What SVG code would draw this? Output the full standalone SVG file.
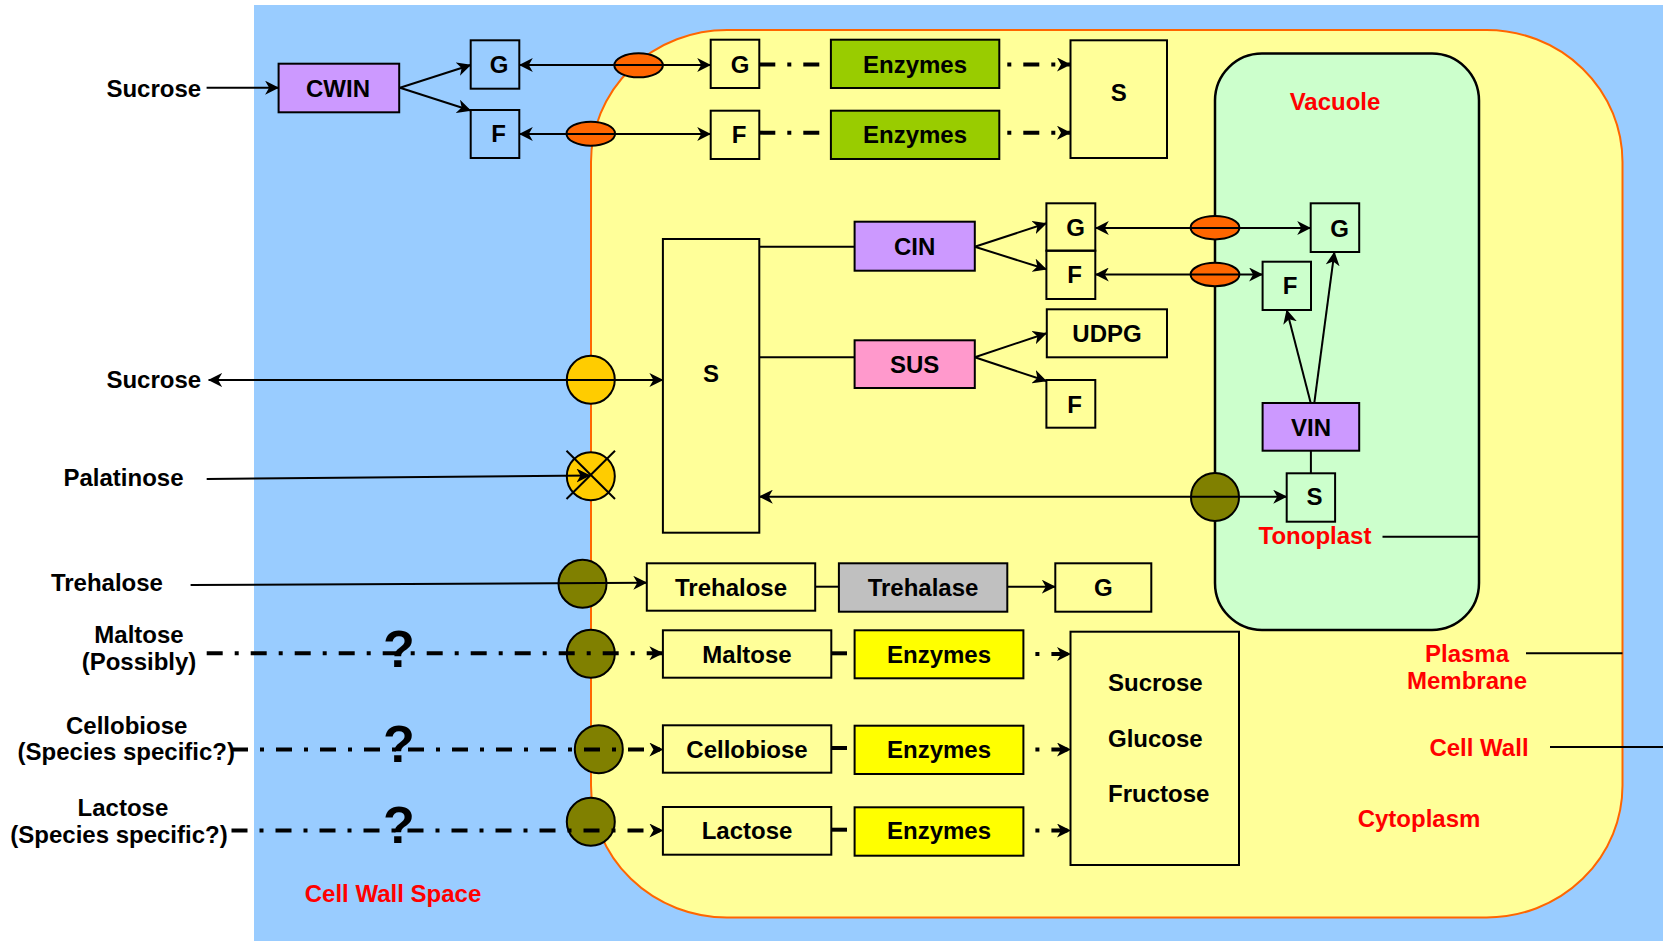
<svg xmlns="http://www.w3.org/2000/svg" width="1663" height="941" viewBox="0 0 1663 941">
<defs>
<style>
.t{font-family:"Liberation Sans",Arial,sans-serif;font-weight:bold;font-size:24px;fill:#000}
.r{fill:#FF0000}
.m{text-anchor:middle}
.q{font-size:52px}
.box{stroke:#000;stroke-width:2}
.ln{stroke:#000;stroke-width:2;fill:none}
.dd{stroke:#000;stroke-width:4;fill:none;stroke-dasharray:16 12 4 12}
.sd{stroke:#000;stroke-width:4;fill:none}
.ov{fill:#FF6600;stroke:#000;stroke-width:2}
.yc{fill:#FFCC00;stroke:#000;stroke-width:2}
.oc{fill:#808000;stroke:#000;stroke-width:2}
</style>
<marker id="ah" viewBox="0 0 14 14" refX="13.5" refY="7" markerWidth="14" markerHeight="14" markerUnits="userSpaceOnUse" orient="auto-start-reverse">
<path d="M0,0 L14,7 L0,14 L4,7 z" fill="#000"/>
</marker>
</defs>

<g id="background">
<rect x="0" y="0" width="1663" height="941" fill="#FFFFFF"/>
<rect x="254" y="5" width="1409" height="936" fill="#99CCFF"/>
<rect id="cell" x="591" y="30" width="1031.5" height="887.5" rx="136" ry="132" fill="#FFFF99" stroke="#FF6600" stroke-width="2"/>
<rect id="vacuole" x="1215" y="53.5" width="264" height="576.5" rx="47" ry="47" fill="#CCFFCC" stroke="#000" stroke-width="2.5"/>
</g>

<g id="region-labels">
<text class="t r m" x="1335" y="110">Vacuole</text>
<text class="t r m" x="1315" y="544.3">Tonoplast</text>
<text class="t r m" x="1467" y="661.7">Plasma</text>
<text class="t r m" x="1467" y="689.3">Membrane</text>
<text class="t r m" x="1479" y="755.7">Cell Wall</text>
<text class="t r m" x="1419" y="826.7">Cytoplasm</text>
<text class="t r m" x="393" y="901.7">Cell Wall Space</text>
<line class="ln" x1="1382.5" y1="536.7" x2="1479" y2="536.7"/>
<line class="ln" x1="1526" y1="653.3" x2="1622.5" y2="653.3"/>
<line class="ln" x1="1550" y1="747" x2="1663" y2="747"/>
</g>

<g id="source-labels">
<text class="t" x="106.4" y="96.7">Sucrose</text>
<text class="t" x="106.4" y="388.3">Sucrose</text>
<text class="t" x="63.5" y="485.7">Palatinose</text>
<text class="t" x="50.9" y="590.7">Trehalose</text>
<text class="t m" x="139" y="643.3">Maltose</text>
<text class="t m" x="139" y="670">(Possibly)</text>
<text class="t m" x="126.7" y="734.3">Cellobiose</text>
<text class="t m" x="126.3" y="760">(Species specific?)</text>
<text class="t m" x="122.9" y="816">Lactose</text>
<text class="t m" x="119" y="843.3">(Species specific?)</text>
</g>

<g id="transporters">
<ellipse class="ov" cx="638.6" cy="65.3" rx="24.3" ry="12"/>
<ellipse class="ov" cx="590.8" cy="133.7" rx="24.3" ry="12"/>
<ellipse class="ov" cx="1215" cy="227.7" rx="24.4" ry="11.7"/>
<ellipse class="ov" cx="1215" cy="274.5" rx="24.4" ry="11.7"/>
<circle class="yc" cx="590.8" cy="379.7" r="24"/>
<circle class="yc" cx="590.8" cy="476.3" r="24"/>
<line class="ln" x1="566.5" y1="450.7" x2="615" y2="499"/>
<line class="ln" x1="615" y1="450.7" x2="566.5" y2="499"/>
<circle class="oc" cx="582.5" cy="583.7" r="24"/>
<circle class="oc" cx="590.8" cy="653.7" r="24"/>
<circle class="oc" cx="598.8" cy="749.3" r="24"/>
<circle class="oc" cx="590.8" cy="821.7" r="24"/>
<circle class="oc" cx="1215" cy="497" r="24"/>
</g>

<g id="connectors">
<path class="ln" d="M206.6,87.7 H278.6" marker-end="url(#ah)"/>
<path class="ln" d="M400,87.7 L470.7,65" marker-end="url(#ah)"/>
<path class="ln" d="M400,87.7 L470.7,110.5" marker-end="url(#ah)"/>
<path class="ln" d="M519.3,65 H710.7" marker-start="url(#ah)" marker-end="url(#ah)"/>
<path class="ln" d="M519.3,134 H710.7" marker-start="url(#ah)" marker-end="url(#ah)"/>
<path class="dd" d="M759.3,64.5 H830.9"/>
<path class="dd" d="M759.3,132.7 H830.9"/>
<path class="dd" style="stroke-dashoffset:20" d="M999.3,64.5 H1070.5" marker-end="url(#ah)"/>
<path class="dd" style="stroke-dashoffset:20" d="M999.3,132.7 H1070.5" marker-end="url(#ah)"/>
<path class="ln" d="M759.3,246.7 H854.6"/>
<path class="ln" d="M974.8,246.7 L1046.4,223.3" marker-end="url(#ah)"/>
<path class="ln" d="M974.8,246.7 L1046.4,269.3" marker-end="url(#ah)"/>
<path class="ln" d="M1095.3,228 H1310.7" marker-start="url(#ah)" marker-end="url(#ah)"/>
<path class="ln" d="M1095.3,274.5 H1262.6" marker-start="url(#ah)" marker-end="url(#ah)"/>
<path class="ln" d="M759.3,357.3 H854.6"/>
<path class="ln" d="M974.8,357.3 L1046.4,333.3" marker-end="url(#ah)"/>
<path class="ln" d="M974.8,357.3 L1046.4,381" marker-end="url(#ah)"/>
<path class="ln" d="M1310.7,403 L1286.7,310" marker-end="url(#ah)"/>
<path class="ln" d="M1314.3,403 L1334.4,252" marker-end="url(#ah)"/>
<path class="ln" d="M1310.9,450.7 V473.3"/>
<path class="ln" d="M759.3,496.7 H1286.7" marker-start="url(#ah)" marker-end="url(#ah)"/>
<path class="ln" d="M208.6,380 H662.9" marker-start="url(#ah)" marker-end="url(#ah)"/>
<path class="ln" d="M206.7,479 L590,475.5" marker-end="url(#ah)"/>
<path class="ln" d="M190.6,585 L646.8,582.7" marker-end="url(#ah)"/>
<path class="ln" d="M815.2,586.7 H838.9"/>
<path class="ln" d="M1007.3,586.7 H1055.3" marker-end="url(#ah)"/>
<path class="dd" d="M206.7,653.3 H662.9" marker-end="url(#ah)"/>
<path class="dd" d="M232,749.5 H662.9" marker-end="url(#ah)"/>
<path class="dd" d="M231.5,830.5 H662.9" marker-end="url(#ah)"/>
<path class="sd" d="M831.3,653.3 H847"/>
<path class="sd" d="M831.3,748 H847"/>
<path class="sd" d="M831.3,829.7 H847"/>
<path class="dd" style="stroke-dashoffset:16" d="M1023.4,654 H1070.5" marker-end="url(#ah)"/>
<path class="dd" style="stroke-dashoffset:16" d="M1023.4,749.5 H1070.5" marker-end="url(#ah)"/>
<path class="dd" style="stroke-dashoffset:16" d="M1023.4,830.5 H1070.5" marker-end="url(#ah)"/>
</g>

<g id="question-marks">
<text class="t q m" x="399" y="666.7">?</text>
<text class="t q m" x="399" y="761.7">?</text>
<text class="t q m" x="399" y="843.3">?</text>
</g>

<g id="node-cwin"><rect class="box" x="278.6" y="63.7" width="120.6" height="48.6" fill="#CC99FF"/><text class="t m" x="338" y="96.7">CWIN</text></g>
<g id="node-g-apo"><rect class="box" x="470.7" y="40.3" width="48.6" height="48.4" fill="none"/><text class="t m" x="499" y="72.7">G</text></g>
<g id="node-f-apo"><rect class="box" x="470.7" y="110" width="48.6" height="48" fill="none"/><text class="t m" x="498.5" y="142.3">F</text></g>
<g id="node-g-cyt1"><rect class="box" x="710.7" y="39.7" width="48.6" height="48.3" fill="none"/><text class="t m" x="740" y="72.7">G</text></g>
<g id="node-f-cyt1"><rect class="box" x="710.7" y="110.7" width="48.6" height="48.3" fill="none"/><text class="t m" x="739" y="143.3">F</text></g>
<g id="node-enz1"><rect class="box" x="830.9" y="39.7" width="168.4" height="48.3" fill="#99CC00"/><text class="t m" x="915" y="72.7">Enzymes</text></g>
<g id="node-enz2"><rect class="box" x="830.9" y="110.7" width="168.4" height="48.3" fill="#99CC00"/><text class="t m" x="915" y="143.3">Enzymes</text></g>
<g id="node-s-top"><rect class="box" x="1070.5" y="40.3" width="96.5" height="117.7" fill="none"/><text class="t m" x="1118.8" y="100.7">S</text></g>
<g id="node-s-big"><rect class="box" x="662.9" y="239" width="96.4" height="293.7" fill="none"/><text class="t m" x="711" y="382.3">S</text></g>
<g id="node-cin"><rect class="box" x="854.6" y="221.7" width="120.2" height="49" fill="#CC99FF"/><text class="t m" x="914.7" y="255">CIN</text></g>
<g id="node-g-cin"><rect class="box" x="1046.4" y="203.3" width="48.9" height="47.4" fill="none"/><text class="t m" x="1075.5" y="235.7">G</text></g>
<g id="node-f-cin"><rect class="box" x="1046.4" y="250.7" width="48.9" height="48.3" fill="none"/><text class="t m" x="1074.5" y="283.3">F</text></g>
<g id="node-sus"><rect class="box" x="854.6" y="340.3" width="120.2" height="47.7" fill="#FF99CC"/><text class="t m" x="914.7" y="372.7">SUS</text></g>
<g id="node-udpg"><rect class="box" x="1046.8" y="309.3" width="120.2" height="48" fill="none"/><text class="t m" x="1107" y="341.7">UDPG</text></g>
<g id="node-f-sus"><rect class="box" x="1046.4" y="380" width="48.9" height="47.7" fill="none"/><text class="t m" x="1074.5" y="412.7">F</text></g>
<g id="node-g-vac"><rect class="box" x="1310.7" y="203.3" width="48.5" height="48.7" fill="none"/><text class="t m" x="1339.5" y="236.7">G</text></g>
<g id="node-f-vac"><rect class="box" x="1262.6" y="261.7" width="48.4" height="48.3" fill="none"/><text class="t m" x="1290" y="294">F</text></g>
<g id="node-vin"><rect class="box" x="1262.6" y="403" width="96.6" height="47.7" fill="#CC99FF"/><text class="t m" x="1311" y="436">VIN</text></g>
<g id="node-s-vac"><rect class="box" x="1286.7" y="473.3" width="48.4" height="48.4" fill="none"/><text class="t m" x="1314.5" y="505">S</text></g>
<g id="node-trehalose"><rect class="box" x="646.8" y="563.3" width="168.4" height="47.4" fill="none"/><text class="t m" x="731" y="595.7">Trehalose</text></g>
<g id="node-trehalase"><rect class="box" x="838.9" y="563.3" width="168.4" height="48.4" fill="#C0C0C0"/><text class="t m" x="923" y="595.7">Trehalase</text></g>
<g id="node-g-tre"><rect class="box" x="1055.3" y="563.3" width="96" height="48.4" fill="none"/><text class="t m" x="1103.3" y="595.7">G</text></g>
<g id="node-maltose"><rect class="box" x="662.9" y="630.3" width="168.4" height="47.4" fill="none"/><text class="t m" x="747" y="662.7">Maltose</text></g>
<g id="node-enz-mal"><rect class="box" x="854.6" y="630.3" width="168.8" height="48" fill="#FFFF00"/><text class="t m" x="939" y="662.7">Enzymes</text></g>
<g id="node-cellobiose"><rect class="box" x="662.9" y="725.3" width="168.4" height="47.4" fill="none"/><text class="t m" x="747" y="757.7">Cellobiose</text></g>
<g id="node-enz-cel"><rect class="box" x="854.6" y="725.7" width="168.8" height="48.3" fill="#FFFF00"/><text class="t m" x="939" y="757.7">Enzymes</text></g>
<g id="node-lactose"><rect class="box" x="662.9" y="807" width="168.4" height="47.7" fill="none"/><text class="t m" x="747" y="839.3">Lactose</text></g>
<g id="node-enz-lac"><rect class="box" x="854.6" y="807.3" width="168.8" height="48.4" fill="#FFFF00"/><text class="t m" x="939" y="839.3">Enzymes</text></g>
<g id="node-products"><rect class="box" x="1070.5" y="631.7" width="168.5" height="233.3" fill="none"/>
<text class="t" x="1108" y="691">Sucrose</text>
<text class="t" x="1108" y="746.7">Glucose</text>
<text class="t" x="1108" y="802.3">Fructose</text></g>
</svg>
